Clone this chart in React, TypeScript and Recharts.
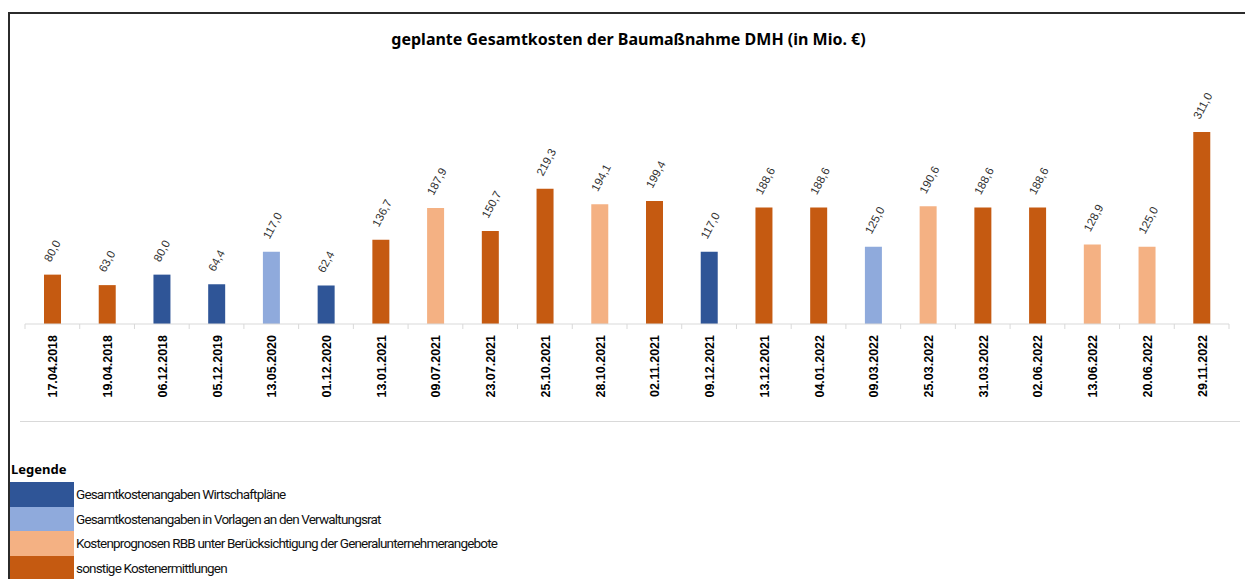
import React from "react";
import { Bar, BarChart, Cell, LabelList, XAxis, YAxis } from "recharts";

// Stichtage der Kostenangaben, Werte in Mio. €, und welche Art von Angabe es war
const dates = [
  "17.04.2018", "19.04.2018", "06.12.2018", "05.12.2019", "13.05.2020", "01.12.2020",
  "13.01.2021", "09.07.2021", "23.07.2021", "25.10.2021", "28.10.2021", "02.11.2021",
  "09.12.2021", "13.12.2021", "04.01.2022", "09.03.2022", "25.03.2022", "31.03.2022",
  "02.06.2022", "13.06.2022", "20.06.2022", "29.11.2022",
];
const values = [
  80.0, 63.0, 80.0, 64.4, 117.0, 62.4, 136.7, 187.9, 150.7, 219.3, 194.1, 199.4,
  117.0, 188.6, 188.6, 125.0, 190.6, 188.6, 188.6, 128.9, 125.0, 311.0,
];
// index into categories
const kinds = [3, 3, 0, 0, 1, 0, 3, 2, 3, 3, 2, 3, 0, 3, 3, 1, 2, 3, 3, 2, 2, 3];
const categories = [
  "Gesamtkostenangaben Wirtschaftpläne",
  "Gesamtkostenangaben in Vorlagen an den Verwaltungsrat",
  "Kostenprognosen RBB unter Berücksichtigung der Generalunternehmerangebote",
  "sonstige Kostenermittlungen",
];

const COLORS = ["#2F5597", "#8FAADC", "#F4B183", "#C55A11"];
const CHART_W = 1237;
const MARGIN = { top: 94, right: 18, left: 15, bottom: 0 };
const BAND = (CHART_W - MARGIN.left - MARGIN.right) / dates.length;

const data = dates.map((d, i) => ({ date: d, value: values[i], kind: kinds[i] }));

const fmt = (v: number) => v.toFixed(1).replace(".", ",");

function DateTick({ x, y, payload, index }: any) {
  const half = BAND / 2;
  return (
    <g>
      <line x1={x - half} x2={x - half} y1={y} y2={y + 5} stroke="#d9d9d9" />
      {index === dates.length - 1 && (
        <line x1={x + half} x2={x + half} y1={y} y2={y + 5} stroke="#d9d9d9" />
      )}
      <text
        x={x + 5}
        y={y + 11}
        transform={`rotate(-90 ${x + 5} ${y + 11})`}
        textAnchor="end"
        fontFamily="'Liberation Sans', Arial, sans-serif"
        fontWeight="bold"
        fontSize={12.5}
        fill="#000"
      >
        {payload.value}
      </text>
    </g>
  );
}

function ValueLabel({ x, y, width, value }: any) {
  const ax = x + width / 2 - 2;
  const ay = y - 12;
  return (
    <text
      x={ax}
      y={ay}
      transform={`rotate(-62 ${ax} ${ay})`}
      textAnchor="start"
      fontFamily="'Liberation Sans', Arial, sans-serif"
      fontSize={11.5}
      fill="#333"
    >
      {fmt(value)}
    </text>
  );
}

export default function App() {
  return (
    <div
      style={{
        position: "relative",
        top: 4,
        width: 1241,
        height: 600,
        border: "2px solid #2b2b2b",
        boxSizing: "border-box",
        background: "#fff",
        fontFamily: "'Noto Sans', sans-serif",
      }}
    >
      <div
        style={{
          position: "absolute",
          top: 14,
          left: 0,
          width: CHART_W,
          textAlign: "center",
          fontWeight: "bold",
          fontSize: 16,
          color: "#000",
        }}
      >
        geplante Gesamtkosten der Baumaßnahme DMH (in Mio. €)
      </div>

      <div style={{ position: "absolute", left: 0, top: 0 }}>
        <BarChart width={CHART_W} height={407} data={data} margin={MARGIN}>
          <XAxis
            dataKey="date"
            height={97}
            interval={0}
            tickLine={false}
            tickSize={0}
            tickMargin={0}
            axisLine={{ stroke: "#d9d9d9" }}
            tick={<DateTick />}
          />
          <YAxis hide domain={[0, 350]} />
          <Bar dataKey="value" barSize={17} isAnimationActive={false}>
            {data.map((d, i) => (
              <Cell key={i} fill={COLORS[d.kind]} />
            ))}
            <LabelList dataKey="value" content={<ValueLabel />} />
          </Bar>
        </BarChart>
      </div>

      <div
        style={{
          position: "absolute",
          left: 10,
          top: 407,
          width: 1220,
          borderTop: "1px solid #d9d9d9",
        }}
      />

      <div style={{ position: "absolute", left: 0, top: 446 }}>
        <div style={{ fontWeight: "bold", fontSize: 13, height: 22, paddingLeft: 1 }}>Legende</div>
        {categories.map((c, i) => (
          <div key={c} style={{ display: "flex", alignItems: "center", height: 24.6 }}>
            <div style={{ width: 64, height: "100%", background: COLORS[i] }} />
            <span
              style={{
                marginLeft: 2,
                fontFamily: "Roboto, sans-serif",
                fontSize: 13.5,
                letterSpacing: -0.82,
                color: "#111",
              }}
            >
              {c}
            </span>
          </div>
        ))}
      </div>
    </div>
  );
}
